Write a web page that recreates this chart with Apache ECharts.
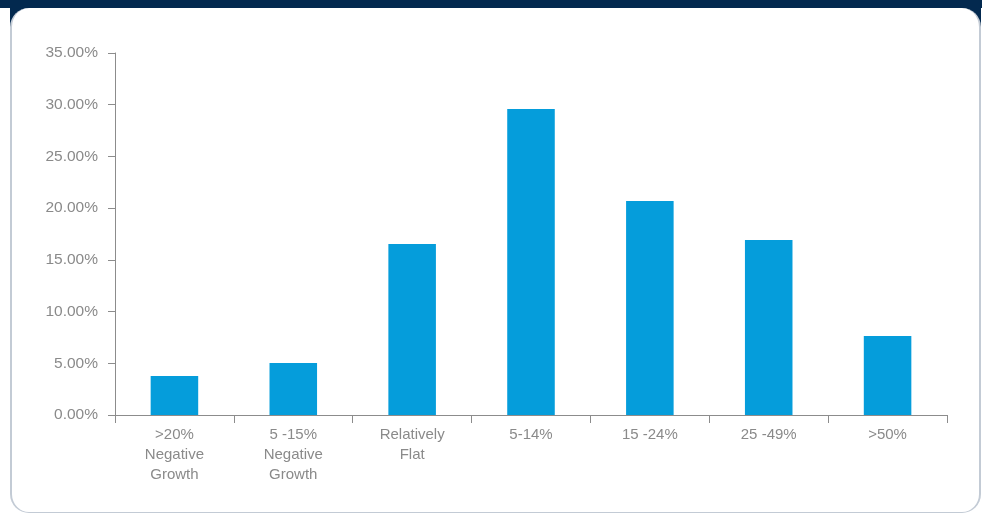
<!DOCTYPE html>
<html>
<head>
<meta charset="utf-8">
<script src="https://cdn.jsdelivr.net/npm/echarts@6/dist/echarts.min.js"></script>
<style>
  html, body { margin: 0; padding: 0; width: 982px; height: 514px; overflow: hidden; background: #ffffff; }
  .band { position: absolute; background: #03294f; }
  #band-top { left: 0; top: 0; width: 982px; height: 8px; }
  #band-corners { left: 10px; top: 0; width: 971px; height: 28px; }
  #card { position: absolute; left: 10px; top: 8px; width: 971px; height: 505px; background: #ffffff;
          border-radius: 19px; border-left: 2px solid #c3cbd5; border-right: 2px solid #c3cbd5;
          border-bottom: 1px solid #c3cbd5; box-sizing: border-box; }
  #chart { position: absolute; left: 0; top: 0; width: 982px; height: 514px; }
</style>
</head>
<body>
<div class="band" id="band-top"></div>
<div class="band" id="band-corners"></div>
<div id="card"></div>
<div id="chart"></div>
<script>
// Growth bands and the share of respondents in each
const categories = ['>20%\nNegative\nGrowth', '5 -15%\nNegative\nGrowth', 'Relatively\nFlat', '5-14%', '15 -24%', '25 -49%', '>50%'];
const shares = [3.77, 5.03, 16.53, 29.59, 20.69, 16.92, 7.64];
const yTicks = [0, 5, 10, 15, 20, 25, 30, 35];

const textColor = '#8a8a8a';
const lineColor = '#8c8c8c';
const font = '"Liberation Sans", Helvetica, Arial, sans-serif';

const chart = echarts.init(document.getElementById('chart'), null, { renderer: 'canvas' });
chart.setOption({
  animation: false,
  grid: { left: 115, right: 35, top: 53, bottom: 99 },
  xAxis: {
    type: 'category',
    data: categories,
    axisLine: { lineStyle: { color: lineColor, width: 1 } },
    axisTick: { show: true, length: 8, alignWithLabel: false, lineStyle: { color: lineColor } },
    axisLabel: { color: textColor, fontSize: 15, fontFamily: font, lineHeight: 20, margin: 10, interval: 0 }
  },
  yAxis: {
    type: 'value',
    min: yTicks[0],
    max: yTicks[yTicks.length - 1],
    interval: 5,
    splitLine: { show: false },
    axisLine: { show: true, lineStyle: { color: lineColor, width: 1 } },
    axisTick: { show: true, length: 7, lineStyle: { color: lineColor } },
    axisLabel: {
      color: textColor, fontSize: 15.5, fontFamily: font, margin: 17,
      formatter: v => v.toFixed(2) + '%'
    }
  },
  series: [{
    type: 'bar',
    data: shares,
    barWidth: '40%',
    itemStyle: { color: '#059ddb' }
  }]
});
</script>
</body>
</html>
